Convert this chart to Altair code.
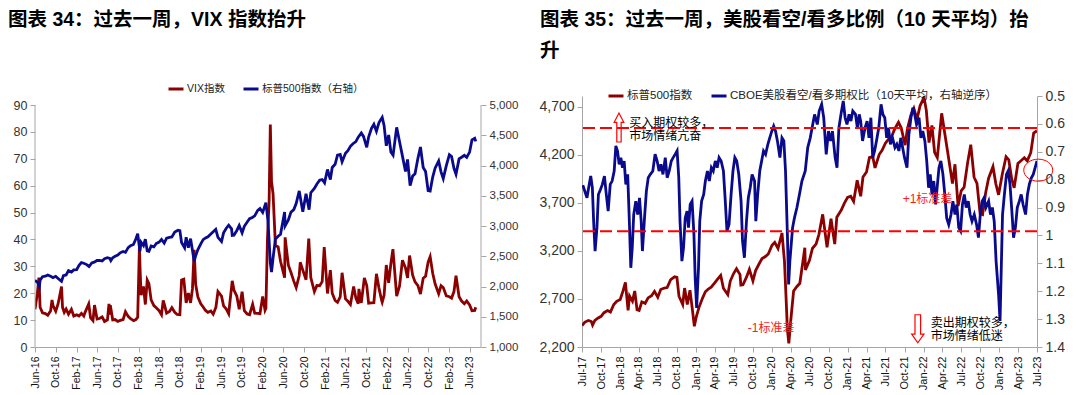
import altair as alt
import pandas as pd

FONT = "Liberation Sans, Arial, Noto Sans CJK SC, sans-serif"
RED = "#8B0000"
BLUE = "#0A0A8C"
GRAY = "#A6A6A6"
ANN = "#FF1A1A"

# ---------------- data ----------------
sp_dates = ["2016-06-01","2016-06-15","2016-06-27","2016-07-01","2016-07-15","2016-08-01","2016-08-15","2016-09-01","2016-09-15","2016-10-01",
            "2016-10-15","2016-11-04","2016-11-15","2016-12-01","2016-12-15","2017-01-01","2017-01-15","2017-02-01","2017-02-15","2017-03-01",
            "2017-03-15","2017-04-01","2017-04-15","2017-05-01","2017-05-15","2017-06-01","2017-06-15","2017-07-01","2017-07-15","2017-08-01",
            "2017-08-15","2017-08-21","2017-09-01","2017-09-15","2017-10-01","2017-10-15","2017-11-01","2017-11-15","2017-12-01","2017-12-15",
            "2018-01-01","2018-01-15","2018-01-26","2018-02-08","2018-02-15","2018-03-01","2018-03-12","2018-03-23","2018-04-02","2018-04-15",
            "2018-05-01","2018-05-15","2018-06-01","2018-06-15","2018-07-01","2018-07-15","2018-08-01","2018-08-15","2018-09-01","2018-09-20",
            "2018-10-01","2018-10-11","2018-10-29","2018-11-07","2018-11-20","2018-12-03","2018-12-14","2018-12-24","2019-01-02","2019-01-15",
            "2019-02-01","2019-02-15","2019-03-01","2019-03-15","2019-04-01","2019-04-15","2019-04-30","2019-05-13","2019-06-03","2019-06-15",
            "2019-07-01","2019-07-15","2019-08-01","2019-08-05","2019-08-15","2019-09-01","2019-09-15","2019-10-02","2019-10-15","2019-11-01",
            "2019-11-15","2019-12-01","2019-12-15","2020-01-02","2020-01-15","2020-01-31","2020-02-19","2020-03-02","2020-03-09","2020-03-16",
            "2020-03-23","2020-04-01","2020-04-15","2020-05-01","2020-05-15","2020-06-08","2020-06-11","2020-06-30","2020-07-15","2020-08-01",
            "2020-08-15","2020-09-02","2020-09-23","2020-10-12","2020-10-30","2020-11-09","2020-11-30","2020-12-15","2020-12-31","2021-01-15",
            "2021-01-29","2021-02-15","2021-03-04","2021-03-15","2021-04-01","2021-04-15","2021-05-01","2021-05-12","2021-06-01","2021-06-15",
            "2021-07-01","2021-07-15","2021-08-01","2021-08-15","2021-09-02","2021-09-15","2021-10-04","2021-10-15","2021-11-01","2021-11-15",
            "2021-11-30","2021-12-15","2022-01-03","2022-01-14","2022-01-27","2022-02-10","2022-02-23","2022-03-08","2022-03-29","2022-04-15",
            "2022-05-02","2022-05-20","2022-06-01","2022-06-16","2022-07-01","2022-07-15","2022-08-01","2022-08-16","2022-09-01","2022-09-15",
            "2022-09-30","2022-10-12","2022-10-27","2022-11-10","2022-12-01","2022-12-15","2022-12-28","2023-01-15","2023-02-02","2023-02-15",
            "2023-03-01","2023-03-13","2023-03-31","2023-04-15","2023-05-01","2023-05-15","2023-06-01","2023-06-15","2023-07-01","2023-07-07"]
sp_values = [2100,2072,2000,2102,2162,2170,2190,2170,2147,2168,
             2133,2085,2180,2191,2262,2238,2275,2279,2349,2395,
             2385,2362,2329,2388,2402,2430,2433,2423,2459,2476,
             2465,2428,2476,2500,2519,2557,2579,2564,2642,2675,
             2695,2786,2872,2581,2731,2677,2783,2588,2581,2670,
             2654,2711,2734,2779,2718,2798,2813,2818,2901,2930,
             2924,2728,2641,2813,2641,2790,2599,2416,2510,2610,
             2706,2775,2803,2822,2867,2905,2945,2811,2744,2886,
             2964,3014,2953,2844,2847,2926,3007,2887,2995,3066,
             3120,3141,3168,3258,3289,3225,3386,3090,2746,2386,
             2237,2470,2783,2830,2863,3232,3002,3100,3227,3271,
             3372,3580,3237,3534,3270,3550,3622,3694,3756,3768,
             3714,3934,3768,3968,4020,4170,4181,4063,4202,4246,
             4320,4360,4395,4468,4537,4480,4300,4471,4613,4682,
             4567,4709,4796,4662,4326,4504,4225,4170,4631,4392,
             4155,3901,4101,3666,3825,3863,4118,4305,3966,3901,
             3586,3577,3808,3956,4076,3895,3783,3999,4179,4147,
             3951,3855,4109,4137,4168,4136,4221,4425,4450,4399]

vix_dates = ["2016-06-01","2016-06-15","2016-06-24","2016-07-01","2016-07-15","2016-08-01","2016-08-15","2016-09-01","2016-09-09","2016-09-15",
             "2016-10-01","2016-10-15","2016-11-04","2016-11-10","2016-11-20","2016-12-01","2016-12-15","2017-01-01","2017-01-15","2017-02-01",
             "2017-02-15","2017-03-01","2017-03-15","2017-03-22","2017-04-13","2017-04-24","2017-05-08","2017-05-17","2017-06-01","2017-06-15",
             "2017-07-01","2017-07-15","2017-08-01","2017-08-10","2017-08-15","2017-08-18","2017-09-01","2017-09-15","2017-10-01","2017-10-15",
             "2017-11-01","2017-11-15","2017-12-01","2017-12-15","2018-01-02","2018-01-15","2018-01-26","2018-02-05","2018-02-09","2018-02-15",
             "2018-03-01","2018-03-12","2018-03-23","2018-04-02","2018-04-15","2018-05-01","2018-05-15","2018-06-01","2018-06-15","2018-06-25",
             "2018-07-01","2018-07-15","2018-08-01","2018-08-15","2018-09-01","2018-09-15","2018-10-01","2018-10-11","2018-10-24","2018-11-07",
             "2018-11-20","2018-12-03","2018-12-14","2018-12-24","2019-01-02","2019-01-15","2019-02-01","2019-02-15","2019-03-01","2019-03-15",
             "2019-04-01","2019-04-15","2019-05-01","2019-05-13","2019-06-03","2019-06-15","2019-07-01","2019-07-15","2019-08-05","2019-08-15",
             "2019-09-01","2019-09-15","2019-10-02","2019-10-15","2019-11-01","2019-11-15","2019-12-03","2019-12-15","2020-01-02","2020-01-15",
             "2020-01-31","2020-02-14","2020-02-19","2020-02-28","2020-03-09","2020-03-16","2020-03-23","2020-04-01","2020-04-15","2020-05-01",
             "2020-05-15","2020-06-08","2020-06-11","2020-06-30","2020-07-15","2020-08-01","2020-08-15","2020-09-02","2020-09-08","2020-09-23",
             "2020-10-12","2020-10-28","2020-11-09","2020-11-30","2020-12-15","2020-12-31","2021-01-15","2021-01-27","2021-02-15","2021-03-04",
             "2021-03-15","2021-04-01","2021-04-15","2021-05-01","2021-05-12","2021-06-01","2021-06-15","2021-06-30","2021-07-19","2021-08-01",
             "2021-08-15","2021-08-19","2021-09-02","2021-09-20","2021-10-04","2021-10-15","2021-11-01","2021-11-15","2021-11-30","2021-12-15",
             "2021-12-31","2022-01-03","2022-01-14","2022-01-27","2022-02-10","2022-02-23","2022-03-07","2022-03-29","2022-04-15","2022-05-02",
             "2022-05-20","2022-06-01","2022-06-13","2022-07-01","2022-07-15","2022-08-01","2022-08-16","2022-09-01","2022-09-15","2022-09-30",
             "2022-10-12","2022-10-27","2022-11-10","2022-12-01","2022-12-15","2022-12-28","2023-01-15","2023-02-02","2023-02-15","2023-03-01",
             "2023-03-13","2023-03-31","2023-04-15","2023-05-01","2023-05-15","2023-06-01","2023-06-15","2023-07-01","2023-07-07"]
vix_values = [14.0,20.0,25.8,14.8,12.7,12.4,11.8,13.5,17.5,15.4,
              13.3,16.1,22.5,14.7,12.9,14.1,12.2,14.0,11.5,12.0,
              11.5,12.5,11.5,12.8,16.0,10.8,9.8,15.6,10.4,10.6,
              11.2,9.5,10.1,16.0,12.0,15.5,10.1,10.2,9.5,9.9,
              10.2,13.1,11.4,10.5,9.8,10.2,11.1,37.3,29.0,19.3,
              22.5,15.8,24.9,23.6,17.5,15.4,14.6,13.5,12.0,17.3,
              16.0,12.6,13.2,14.6,12.9,12.1,12.0,24.9,25.2,16.4,
              20.1,16.4,21.6,36.1,23.2,18.6,16.1,14.9,13.6,12.9,
              13.4,12.2,14.8,20.6,18.9,15.3,14.1,12.4,24.6,21.2,
              18.9,14.0,20.6,13.5,12.3,12.0,15.9,12.6,12.5,12.4,
              18.8,13.7,14.4,40.1,54.5,82.7,61.6,57.0,37.8,37.2,
              31.9,25.8,40.8,30.4,27.8,24.5,22.1,26.6,31.5,28.6,
              25.0,40.3,25.8,20.6,22.9,22.8,24.3,37.2,19.9,28.6,
              20.0,17.3,16.6,18.6,27.6,17.9,17.0,15.8,22.5,18.2,
              16.1,21.6,16.4,25.7,22.9,16.3,16.4,16.5,27.2,21.9,
              17.2,16.6,19.2,30.5,23.9,31.0,36.4,18.9,22.7,32.3,
              29.4,25.7,34.0,26.7,24.2,22.8,19.7,25.6,26.3,31.6,
              33.6,27.4,23.5,19.8,22.8,22.1,19.0,18.7,18.2,20.6,
              26.5,18.7,17.1,16.1,17.1,15.6,13.5,13.6,14.8]

pc_dates = ["2017-07-05","2017-07-25","2017-08-02","2017-08-12","2017-08-20","2017-08-26","2017-09-02","2017-09-11","2017-09-18","2017-09-28",
            "2017-10-07","2017-10-17","2017-10-26","2017-11-04","2017-11-14","2017-11-23","2017-12-03","2017-12-11","2017-12-19","2017-12-27",
            "2018-01-04","2018-01-12","2018-01-20","2018-01-28","2018-02-06","2018-02-14","2018-02-21","2018-02-28","2018-03-07","2018-03-17",
            "2018-03-26","2018-04-04","2018-04-12","2018-04-18","2018-04-28","2018-05-07","2018-05-16","2018-05-26","2018-06-07","2018-06-18",
            "2018-06-28","2018-07-07","2018-07-16","2018-07-26","2018-08-06","2018-08-15","2018-08-25","2018-09-04","2018-09-13","2018-09-23",
            "2018-10-02","2018-10-10","2018-10-16","2018-10-25","2018-11-02","2018-11-10","2018-11-19","2018-11-26","2018-12-04","2018-12-13",
            "2018-12-22","2018-12-28","2019-01-04","2019-01-13","2019-01-19","2019-01-28","2019-02-07","2019-02-15","2019-02-25","2019-03-06",
            "2019-03-16","2019-03-25","2019-04-04","2019-04-13","2019-04-22","2019-05-02","2019-05-13","2019-05-22","2019-05-30","2019-06-09",
            "2019-06-19","2019-06-28","2019-07-07","2019-07-16","2019-07-26","2019-08-06","2019-08-13","2019-08-22","2019-09-01","2019-09-10",
            "2019-09-19","2019-09-28","2019-10-10","2019-10-16","2019-10-25","2019-11-04","2019-11-13","2019-11-22","2019-12-02","2019-12-13",
            "2019-12-22","2020-01-01","2020-01-10","2020-01-19","2020-01-28","2020-02-09","2020-02-19","2020-02-28","2020-03-07","2020-03-16",
            "2020-03-22","2020-03-28","2020-04-10","2020-04-19","2020-05-01","2020-05-13","2020-05-25","2020-06-10","2020-06-22","2020-07-04",
            "2020-07-16","2020-07-25","2020-08-07","2020-08-16","2020-08-28","2020-09-07","2020-09-19","2020-09-30","2020-10-10","2020-10-19",
            "2020-11-01","2020-11-10","2020-11-19","2020-11-29","2020-12-10","2020-12-19","2020-12-28","2021-01-07","2021-01-16","2021-01-25",
            "2021-02-07","2021-02-16","2021-02-25","2021-03-04","2021-03-13","2021-03-25","2021-04-04","2021-04-13","2021-04-22","2021-05-01",
            "2021-05-10","2021-05-19","2021-05-30","2021-06-10","2021-06-19","2021-06-28","2021-07-07","2021-07-16","2021-07-25","2021-08-04",
            "2021-08-16","2021-08-25","2021-09-04","2021-09-13","2021-09-22","2021-10-01","2021-10-13","2021-10-22","2021-11-01","2021-11-10",
            "2021-11-19","2021-11-28","2021-12-10","2021-12-19","2021-12-28","2022-01-07","2022-01-16","2022-01-25","2022-02-02","2022-02-10",
            "2022-02-19","2022-02-28","2022-03-07","2022-03-16","2022-03-25","2022-04-04","2022-04-13","2022-04-22","2022-05-02","2022-05-13",
            "2022-05-22","2022-06-01","2022-06-10","2022-06-19","2022-06-28","2022-07-07","2022-07-16","2022-07-25","2022-08-04","2022-08-13",
            "2022-08-22","2022-09-02","2022-09-13","2022-09-22","2022-10-01","2022-10-10","2022-10-19","2022-10-28","2022-11-10","2022-11-19",
            "2022-11-28","2022-12-07","2022-12-16","2022-12-22","2022-12-28","2023-01-04","2023-01-10","2023-01-16","2023-01-25","2023-02-04",
            "2023-02-12","2023-02-21","2023-03-02","2023-03-10","2023-03-19","2023-03-28","2023-04-07","2023-04-16","2023-04-25","2023-05-07",
            "2023-05-16","2023-05-25","2023-06-04","2023-06-13","2023-06-22","2023-07-01"]
pc_values = [0.82,0.865,0.829,0.787,0.829,0.949,1.056,0.972,0.853,0.835,
             0.817,0.787,0.853,0.913,0.817,0.805,0.769,0.679,0.697,0.745,
             0.721,0.757,0.733,0.817,0.781,0.949,1.116,1.044,0.925,0.877,
             0.925,0.865,0.949,1.056,0.937,0.841,0.793,0.781,0.769,0.709,
             0.733,0.769,0.745,0.781,0.721,0.793,0.769,0.733,0.721,0.709,
             0.697,0.793,0.949,1.092,1.044,0.937,0.913,0.972,0.889,0.877,
             0.996,1.152,1.26,1.116,0.949,0.877,0.853,0.805,0.769,0.805,
             0.757,0.769,0.733,0.757,0.721,0.733,0.769,0.877,0.984,0.961,
             0.853,0.769,0.721,0.733,0.781,0.877,1.02,1.08,0.949,0.865,
             0.829,0.781,0.805,0.949,0.853,0.769,0.733,0.697,0.709,0.673,
             0.65,0.626,0.608,0.626,0.661,0.721,0.65,0.661,0.769,0.996,
             1.176,1.092,0.972,0.937,0.90,0.853,0.805,0.769,0.685,0.65,
             0.602,0.566,0.602,0.554,0.53,0.578,0.709,0.626,0.661,0.626,
             0.721,0.757,0.614,0.566,0.518,0.578,0.602,0.566,0.59,0.554,
             0.566,0.614,0.566,0.59,0.661,0.614,0.59,0.65,0.578,0.721,
             0.697,0.661,0.614,0.53,0.566,0.578,0.65,0.614,0.673,0.65,
             0.685,0.673,0.697,0.65,0.685,0.721,0.757,0.638,0.578,0.542,
             0.566,0.602,0.578,0.65,0.626,0.661,0.733,0.829,0.781,0.853,
             0.805,0.889,0.829,0.757,0.733,0.781,0.853,0.937,0.961,0.925,
             0.877,0.925,0.889,0.972,0.984,0.889,0.853,0.90,0.877,0.925,
             0.949,0.925,0.961,1.008,0.925,0.877,0.865,0.90,0.877,0.925,
             0.90,0.949,1.092,1.152,1.212,1.307,1.116,0.925,0.853,0.781,
             0.769,0.817,0.913,1.008,0.972,0.90,0.877,0.853,0.889,0.925,
             0.853,0.817,0.793,0.781,0.757,0.733]

left_series = ["VIX指数", "标普500指数（右轴）"]
right_series = ["标普500指数", "CBOE美股看空/看多期权比（10天平均，右轴逆序）"]

vix_ticks = [0, 10, 20, 30, 40, 50, 60, 70, 80, 90]
spx_left_ticks = [1000, 1500, 2000, 2500, 3000, 3500, 4000, 4500, 5000]
spx_right_ticks = [2200, 2700, 3200, 3700, 4200, 4700]
pc_ticks = [0.5, 0.6, 0.7, 0.8, 0.9, 1.0, 1.1, 1.2, 1.3, 1.4]
std_lines = [0.615, 0.985]
vix_axis_span = [0, 90]

left_x_ticks = [(2016, 6), (2016, 10), (2017, 2), (2017, 6), (2017, 10), (2018, 2), (2018, 6), (2018, 10),
                (2019, 2), (2019, 6), (2019, 10), (2020, 2), (2020, 6), (2020, 10), (2021, 2), (2021, 6),
                (2021, 10), (2022, 2), (2022, 6), (2022, 10), (2023, 2), (2023, 6)]
right_x_ticks = [(y, m) for y in range(2017, 2024) for m in (1, 4, 7, 10)
                 if (y, m) >= (2017, 7) and (y, m) <= (2023, 7)]

ann_black_dates = ["2018-02-13", "2018-02-13", "2022-02-04", "2022-02-04"]
ann_black_ratio = [0.596, 0.644, 1.314, 1.361]
ann_black_text = ["买入期权较多，", "市场情绪亢奋", "卖出期权较多，", "市场情绪低迷"]
ann_red_dates = ["2019-09-07", "2021-09-22"]
ann_red_ratio = [1.332, 0.870]
ann_red_text = ["-1标准差", "+1标准差"]
arrow_dates = ["2017-12-26", "2021-12-04"]
arrow_ratio = [0.613, 1.3345]
arrow_dir = ["up", "down"]
circle_dates = ["2023-07-07"]
circle_ratio = [0.766]

# ---------------- frames ----------------
def ts(s):
    return pd.to_datetime(s)

sp_df = pd.DataFrame({"date": ts(sp_dates), "value": sp_values})
vix_df = pd.DataFrame({"date": ts(vix_dates), "value": vix_values, "series": left_series[0]})
spl_df = sp_df.assign(series=left_series[1])
spr_df = sp_df[(sp_df["date"] >= "2017-07-01") & (sp_df["date"] <= "2023-07-01")].assign(series=right_series[0])
pc_df = pd.DataFrame({"date": ts(pc_dates), "ratio": pc_values, "series": right_series[1]})
std_df = pd.DataFrame({"ratio": std_lines})
annb_df = pd.DataFrame({"date": ts(ann_black_dates), "ratio": ann_black_ratio, "label": ann_black_text})
annr_df = pd.DataFrame({"date": ts(ann_red_dates), "ratio": ann_red_ratio, "label": ann_red_text})
arrow_df = pd.DataFrame({"date": ts(arrow_dates), "ratio": arrow_ratio, "dir": arrow_dir})
circ_df = pd.DataFrame({"date": ts(circle_dates), "ratio": circle_ratio})
vspan_df = pd.DataFrame({"value": [vix_axis_span[0]], "hi": [vix_axis_span[1]]})

PLOT_H = 251
W_LEFT = 446
W_RIGHT = 455
LW = 2.8


def dt(y, m, d=1):
    return alt.DateTime(year=y, month=m, date=d)


def y_axis(values, fmt, orient, size, domain=True):
    return alt.Axis(values=values, format=fmt, orient=orient, grid=False, domain=domain,
                    domainColor=GRAY, tickColor=GRAY, tickSize=5, labelColor="#333333",
                    labelFontSize=size, labelFont=FONT, labelPadding=3, title=None,
                    labelOverlap=False, labelFlush=False)


def x_axis(ticks, size):
    return alt.Axis(values=[dt(y, m) for y, m in ticks], format="%b-%y", labelAngle=270,
                    labelAlign="right", labelBaseline="middle", labelFontSize=size,
                    labelFont=FONT, labelColor="#111111", labelPadding=4, tickSize=5,
                    tickColor=GRAY, domainColor=GRAY, grid=False, title=None,
                    labelOverlap=False, labelFlush=False)


def legend(x, y, size):
    return alt.Legend(orient="none", legendX=x, legendY=y, direction="horizontal", title=None,
                      symbolType="stroke", symbolStrokeWidth=3, symbolSize=225,
                      labelFont=FONT, labelFontSize=size, labelColor="#222222",
                      labelOffset=2, columnPadding=12, labelLimit=0)


def label(txt, x, y, size=19.5):
    return alt.Chart(alt.Data(values=[{}])).mark_text(
        text=txt, align="left", baseline="top", font=FONT, fontSize=size,
        fontWeight="bold", color="#000000"
    ).encode(x=alt.value(x), y=alt.value(y))


# ---------------- left panel ----------------
# the left plot area starts lower than the right one: the value scales reach a bit
# above the top tick, and the axis lines are drawn only up to the top tick.
vix_scale = alt.Scale(domain=[0, 90 * PLOT_H / 242.0])
spl_scale = alt.Scale(domain=[1000, 1000 + 4000 * PLOT_H / 242.0])
vix_axis = y_axis(vix_ticks, "d", "left", 12.5, domain=False)

lx = alt.X("date:T", scale=alt.Scale(domain=[dt(2016, 6, 1), dt(2023, 8, 7)]),
           axis=x_axis(left_x_ticks, 10.5))
lcolor = alt.Color("series:N", scale=alt.Scale(domain=left_series, range=[RED, BLUE]),
                   legend=legend(132, -16, 10.5))

vix_line = alt.Chart(vix_df).mark_line(strokeWidth=LW, clip=True).encode(
    x=lx,
    y=alt.Y("value:Q", scale=vix_scale, axis=vix_axis),
    color=lcolor,
)
left_dom = alt.Chart(vspan_df).mark_rule(color=GRAY, strokeWidth=1).encode(
    x=alt.value(0), y=alt.Y("value:Q", scale=vix_scale, axis=vix_axis), y2="hi:Q")
right_dom = alt.Chart(vspan_df).mark_rule(color=GRAY, strokeWidth=1).encode(
    x=alt.value(W_LEFT), y=alt.Y("value:Q", scale=vix_scale, axis=vix_axis), y2="hi:Q")
spl_line = alt.Chart(spl_df).mark_line(strokeWidth=LW, clip=True).encode(
    x=lx,
    y=alt.Y("value:Q", scale=spl_scale, axis=y_axis(spx_left_ticks, ",.0f", "right", 11.5, domain=False)),
    color=lcolor,
)
left = alt.layer(
    alt.layer(vix_line, left_dom, right_dom), spl_line,
    label("图表 34：过去一周，VIX 指数抬升", -27, -85),
).resolve_scale(y="independent").properties(width=W_LEFT, height=PLOT_H)

# ---------------- right panel ----------------
rx = alt.X("date:T", scale=alt.Scale(domain=[dt(2017, 7, 1), dt(2023, 7, 1)]),
           axis=x_axis(right_x_ticks, 11))
rcolor = alt.Color("series:N", scale=alt.Scale(domain=right_series, range=[RED, BLUE]),
                   legend=legend(25, -9, 11.5))
pc_scale = alt.Scale(domain=[0.5, 1.4], reverse=True)
pc_axis = y_axis(pc_ticks, ".1~f", "right", 14)
pc_y = alt.Y("ratio:Q", scale=pc_scale, axis=pc_axis)

spr_line = alt.Chart(spr_df).mark_line(strokeWidth=LW, clip=True).encode(
    x=rx,
    y=alt.Y("value:Q", scale=alt.Scale(domain=[2200, 4811]), axis=y_axis(spx_right_ticks, ",.0f", "left", 14)),
    color=rcolor,
)
pc_line = alt.Chart(pc_df).mark_line(strokeWidth=LW, clip=True).encode(
    x=rx, y=pc_y, color=rcolor)
std_rules = alt.Chart(std_df).mark_rule(color="#FF0000", strokeWidth=2, strokeDash=[12, 5]).encode(
    y=pc_y)
annb = alt.Chart(annb_df).mark_text(align="left", baseline="middle", font=FONT, fontSize=12,
                                     color="#000000").encode(x=rx, y=pc_y, text="label:N")
annr = alt.Chart(annr_df).mark_text(align="left", baseline="middle", font=FONT, fontSize=12,
                                     color=ANN).encode(x=rx, y=pc_y, text="label:N")
UP = "M -0.15 1 L -0.15 -0.36 L -0.33 -0.36 L 0 -1 L 0.33 -0.36 L 0.15 -0.36 L 0.15 1 Z"
DOWN = "M -0.2 -1 L -0.2 0.38 L -0.44 0.38 L 0 1 L 0.44 0.38 L 0.2 0.38 L 0.2 -1 Z"
up_arrow = alt.Chart(arrow_df[arrow_df["dir"] == "up"]).mark_point(
    shape=UP, size=841, filled=False, stroke="#FF0000", strokeWidth=1.2, opacity=1).encode(
    x=rx, y=pc_y)
down_arrow = alt.Chart(arrow_df[arrow_df["dir"] == "down"]).mark_point(
    shape=DOWN, size=784, filled=False, stroke="#FF0000", strokeWidth=1.2, opacity=1).encode(
    x=rx, y=pc_y)
ELLIPSE = "M -1 0 A 1 0.76 0 1 1 1 0 A 1 0.76 0 1 1 -1 0 Z"
circle = alt.Chart(circ_df).mark_point(
    shape=ELLIPSE, size=841, filled=False, stroke="#FF0000", strokeWidth=1, opacity=1).encode(
    x=rx, y=pc_y)

pc_group = alt.layer(pc_line, std_rules, annb, annr, up_arrow, down_arrow, circle)
right = alt.layer(
    spr_line, pc_group,
    label("图表 35：过去一周，美股看空/看多比例（10 天平均）抬", -42, -85),
    label("升", -42, -54),
).resolve_scale(y="independent").properties(width=W_RIGHT, height=PLOT_H)

chart = alt.hconcat(left, right, spacing=20).resolve_scale(
    color="independent").resolve_legend(color="independent").properties(
    padding={"left": 0, "top": 2, "right": 0, "bottom": 0},
    background="white").configure_view(stroke=None)

chart.save("out.html", embed_options={"renderer": "svg", "actions": False})
